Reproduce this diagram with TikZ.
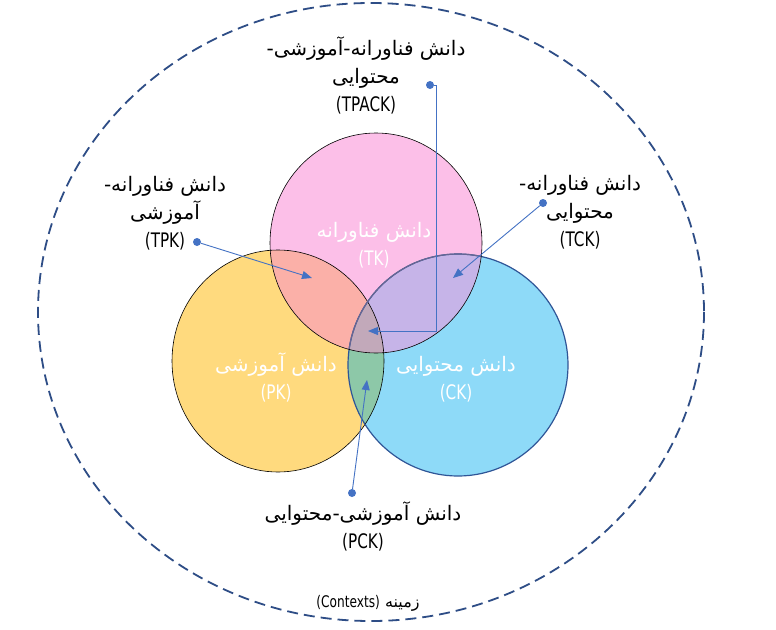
\documentclass[tikz,border=0pt]{standalone}
\usepackage{fontspec}
\setmainfont{DejaVu Sans}
\newfontfamily\farsi[Script=Arabic]{DejaVu Sans}
\newfontfamily\latinf[FakeStretch=0.76]{DejaVu Sans}
\TeXXeTstate=1
\usetikzlibrary{arrows.meta}

\definecolor{tkpink}{HTML}{FCBFE8}
\definecolor{pkyellow}{HTML}{FFDA7E}
\definecolor{ckblue}{HTML}{8EDAF8}
\definecolor{tpksalmon}{HTML}{FBB0A8}
\definecolor{tcklav}{HTML}{C6B4E8}
\definecolor{pckgreen}{HTML}{8DC8A8}
\definecolor{tpackmauve}{HTML}{C2A9BA}
\definecolor{ckedge}{HTML}{2F5597}
\definecolor{linkblue}{HTML}{4472C4}
\definecolor{ctxblue}{HTML}{2E4D86}

\newcommand{\ltn}[1]{{\latinf #1}}

\tikzset{
  lbl/.style={align=center,font=\farsi\fontsize{20}{28}\selectfont},
  inlbl/.style={lbl,text=white},
  dotnode/.style={circle,fill=linkblue,inner sep=0pt,minimum size=8pt},
  conn/.style={draw=linkblue,line width=0.9pt,-{Triangle[length=10pt,width=8pt]}}
}

\begin{document}
\begin{tikzpicture}[x=1pt,y=-1pt]
\useasboundingbox (0,0) rectangle (776,629);
\fill[white] (0,0) rectangle (776,629);

% context
\draw[ctxblue,line width=1.8pt,dash pattern=on 11pt off 6pt] (371,312) ellipse [x radius=333,y radius=309];

% circles
\coordinate (tk) at (376,243);
\coordinate (pk) at (278,361);
\coordinate (ck) at (458,365);
\fill[pkyellow] (pk) ellipse [x radius=106,y radius=111];
\fill[ckblue] (ck) ellipse [x radius=110,y radius=111];
\fill[tkpink] (tk) ellipse [x radius=106,y radius=110];
\begin{scope}
\clip (pk) ellipse [x radius=106,y radius=111];
\fill[pckgreen] (ck) ellipse [x radius=110,y radius=111];
\end{scope}
\begin{scope}
\clip (tk) ellipse [x radius=106,y radius=110];
\fill[tpksalmon] (pk) ellipse [x radius=106,y radius=111];
\fill[tcklav] (ck) ellipse [x radius=110,y radius=111];
\clip (pk) ellipse [x radius=106,y radius=111];
\fill[tpackmauve] (ck) ellipse [x radius=110,y radius=111];
\end{scope}
\draw[black,line width=0.6pt] (pk) ellipse [x radius=106,y radius=111];
\draw[ckedge,line width=1.2pt] (ck) ellipse [x radius=110,y radius=111];
\begin{scope}
\clip (tk) ellipse [x radius=106,y radius=110];
\draw[ckedge!60!tkpink!80!black,line width=1.2pt] (ck) ellipse [x radius=110,y radius=111];
\end{scope}
\draw[black,line width=0.6pt] (tk) ellipse [x radius=106,y radius=110];

% circle labels
\node[inlbl] (tklbl) at (374,245) {\beginR دانش فناورانه\endR\\\ltn{(TK)}};
\node[inlbl] (pklbl) at (276,377) {\beginR دانش آموزشی\endR\\\ltn{(PK)}};
\node[inlbl] (cklbl) at (456,379) {\beginR دانش محتوایی\endR\\\ltn{(CK)}};

% outer labels
\node[lbl] (tpack) at (366,75) {\beginR دانش فناورانه-آموزشی-\endR\\\beginR محتوایی\endR\\\ltn{(TPACK)}};
\node[lbl] (tpk) at (165,213) {\beginR دانش فناورانه-\endR\\\beginR آموزشی\endR\\\ltn{(TPK)}};
\node[lbl] (tck) at (580,212) {\beginR دانش فناورانه-\endR\\\beginR محتوایی\endR\\\ltn{(TCK)}};
\node[lbl] (pck) at (363,526) {\beginR دانش آموزشی-محتوایی\endR\\\ltn{(PCK)}};
\node[lbl,font=\farsi\fontsize{16}{20}\selectfont] (ctx) at (368,603) {\beginR زمینه \beginL\ltn{(Contexts)}\endL\endR};

% connectors
\node[dotnode] (tpackdot) at (430,85) {};
\node[dotnode] (tpkdot) at (197,242) {};
\node[dotnode] (tckdot) at (543,203) {};
\node[dotnode] (pckdot) at (352,493) {};
\coordinate (tpackbend) at (436,331);
\coordinate (tpacktip) at (368,331);
\coordinate (tpktip) at (312,278);
\coordinate (tcktip) at (453,278);
\coordinate (pcktip) at (367,380);
\draw[conn] (tpackdot) -| (tpackbend) -- (tpacktip);
\draw[conn] (tpkdot) -- (tpktip);
\draw[conn] (tckdot) -- (tcktip);
\draw[conn] (pckdot) -- (pcktip);
\end{tikzpicture}
\end{document}
